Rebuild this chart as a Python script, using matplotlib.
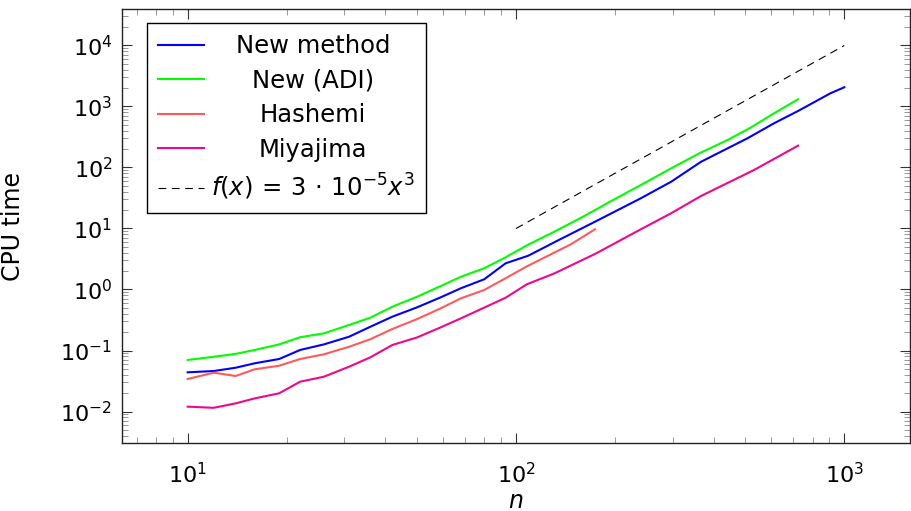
import matplotlib
matplotlib.use("Agg")
import matplotlib.pyplot as plt
from matplotlib.ticker import LogLocator, NullFormatter

# Data (n vs CPU time)
n_new = [10, 12, 14, 16, 19, 22, 26, 31, 36, 42, 50, 59, 68, 80, 93, 109,
         135, 174, 240, 297, 366, 507, 611, 723, 907, 1000]
t_new = [0.0439, 0.0461, 0.0522, 0.0617, 0.0726, 0.102, 0.126, 0.168, 0.245,
         0.358, 0.511, 0.745, 1.05, 1.47, 2.69, 3.58, 6.48, 12.9, 31.3, 58.5,
         124, 301, 531, 844, 1645, 2065]

n_adi = [10, 12, 14, 16, 19, 22, 26, 31, 36, 42, 50, 59, 68, 80, 93, 108,
         131, 160, 195, 240, 297, 362, 441, 518, 611, 723]
t_adi = [0.070, 0.079, 0.088, 0.102, 0.126, 0.165, 0.191, 0.262, 0.345, 0.522,
         0.762, 1.14, 1.62, 2.23, 3.37, 5.3, 8.9, 15.6, 28.2, 51.6, 97, 171,
         282, 449, 774, 1313]

n_hashemi = [10, 12, 14, 16, 19, 22, 26, 31, 36, 42, 50, 59, 68, 80, 93, 108,
             147, 174]
t_hashemi = [0.0341, 0.0433, 0.0382, 0.0492, 0.0563, 0.0726, 0.0866, 0.115,
             0.153, 0.225, 0.328, 0.492, 0.717, 0.981, 1.53, 2.4, 5.51, 9.7]

n_miya = [10, 12, 14, 16, 19, 22, 26, 31, 36, 42, 50, 59, 68, 80, 93, 108,
          131, 174, 240, 297, 366, 531, 723]
t_miya = [0.0120, 0.0115, 0.0136, 0.0164, 0.0199, 0.0308, 0.0372, 0.0542,
          0.0773, 0.123, 0.164, 0.240, 0.337, 0.504, 0.734, 1.22, 1.84, 3.82,
          9.7, 17.8, 34.1, 91, 228]

# reference slope line as drawn in the picture
n_ref = [100, 1000]
t_ref = [10, 10000]

plt.rcParams['font.family'] = ['DejaVu Sans']
plt.rcParams['mathtext.fontset'] = 'dejavusans'

fig = plt.figure(figsize=(9.12, 5.11), dpi=100)
ax = fig.add_axes([0.1338, 0.1331, 0.8640, 0.8487])

lw = 1.5
ax.plot(n_new, t_new, color='#0000ff', lw=lw, label='New method')
ax.plot(n_adi, t_adi, color='#00ff00', lw=lw, label='New (ADI)')
ax.plot(n_hashemi, t_hashemi, color='#ff5a5a', lw=lw, label='Hashemi')
ax.plot(n_miya, t_miya, color='#f0078c', lw=lw, label='Miyajima')
ax.plot(n_ref, t_ref, color='black', lw=0.8, ls=(0, (7, 5)),
        label=r'$f(x)\,=\,3\,\cdot\,10^{-5}x^{3}$')

ax.set_xscale('log')
ax.set_yscale('log')
ax.set_xlim(6.31, 1585)
ax.set_ylim(10 ** -2.516, 10 ** 4.593)

ax.xaxis.set_major_locator(LogLocator(base=10, numticks=10))
ax.yaxis.set_major_locator(LogLocator(base=10, numticks=10))
ax.xaxis.set_minor_locator(LogLocator(base=10, subs=range(2, 10), numticks=20))
ax.yaxis.set_minor_locator(LogLocator(base=10, subs=range(2, 10), numticks=20))
ax.xaxis.set_minor_formatter(NullFormatter())
ax.yaxis.set_minor_formatter(NullFormatter())

ax.tick_params(which='both', direction='in', top=True, right=True,
               labelsize=16)
ax.tick_params(which='major', length=7, width=0.8, color='#333333')
ax.tick_params(which='minor', length=4.5, width=0.6, color='#888888')
ax.tick_params(axis='x', which='major', pad=14)
ax.tick_params(axis='y', which='major', pad=7)
for s in ax.spines.values():
    s.set_linewidth(1.0)
    s.set_color('#222222')

ax.set_xlabel(r'$n$', fontsize=17)
ax.set_ylabel('CPU time', fontsize=17)
ax.xaxis.set_label_coords(0.5, -0.105)
ax.yaxis.set_label_coords(-0.123, 0.5)

leg = ax.legend(loc='upper left', bbox_to_anchor=(0.0313, 0.9677),
                borderaxespad=0, fontsize=17.5, handlelength=1.9,
                handletextpad=0.3, borderpad=0.45, labelspacing=0.43,
                fancybox=False, framealpha=1, edgecolor='black')
leg.get_frame().set_linewidth(1.0)

# centre the legend labels in their column, like the original
fig.canvas.draw()
r = fig.canvas.get_renderer()
texts = leg.get_texts()
widths = [t.get_window_extent(r).width for t in texts]
wmax = max(widths)
for t, w in zip(texts, widths):
    t.set_x((wmax - w) / 2)

fig.savefig('out.png', dpi=100)
